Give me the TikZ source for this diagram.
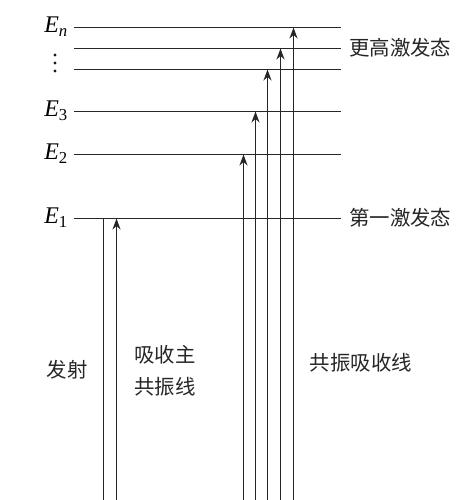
\documentclass[tikz,border=0pt]{standalone}
\usepackage{fontspec}
\setmainfont{Liberation Serif}
\newfontfamily\cjk{Noto Sans CJK SC}
\usetikzlibrary{positioning,arrows.meta}
\tikzset{
  level/.style  = {line width=1.7bp, draw=black!85},
  flow/.style   = {-{Stealth[length=11bp,width=8bp]}, line width=1.7bp, draw=black!85},
  emit/.style   = {line width=1.7bp, draw=black!85},
  elbl/.style   = {font=\fontsize{24}{26}\selectfont, inner sep=0pt, anchor=east},
  dot/.style    = {circle, fill=black!90, inner sep=0pt, minimum size=3.4bp},
  zh/.style     = {font=\cjk\fontsize{20.5}{32}\selectfont, align=center, inner sep=0pt, text=black!85},
}

\begin{document}
\begin{tikzpicture}[x=1bp,y=-1bp]
  \useasboundingbox (0,0) rectangle (474,500);

  % energy levels
  \coordinate (en-a) at (74,27.5);  \coordinate (en-b) at (341,27.5);
  \coordinate (h2-a) at (74,48.5);  \coordinate (h2-b) at (341,48.5);
  \coordinate (h1-a) at (74,69.5);  \coordinate (h1-b) at (341,69.5);
  \coordinate (e3-a) at (74,111.5); \coordinate (e3-b) at (341,111.5);
  \coordinate (e2-a) at (74,154.5); \coordinate (e2-b) at (341,154.5);
  \coordinate (e1-a) at (74,218.5); \coordinate (e1-b) at (341,218.5);
  \draw[level] (en-a) -- (en-b);
  \draw[level] (h2-a) -- (h2-b);
  \draw[level] (h1-a) -- (h1-b);
  \draw[level] (e3-a) -- (e3-b);
  \draw[level] (e2-a) -- (e2-b);
  \draw[level] (e1-a) -- (e1-b);

  \node[elbl] (lbl-en) at (68,27)  {\textit{E}\textsubscript{\textit{n}}};
  \node[elbl] (lbl-e3) at (68,111) {\textit{E}\textsubscript{3}};
  \node[elbl] (lbl-e2) at (68,154) {\textit{E}\textsubscript{2}};
  \node[elbl] (lbl-e1) at (68,218) {\textit{E}\textsubscript{1}};
  \node[dot] (dot1) at (55,55) {};
  \node[dot] (dot2) at (55,63) {};
  \node[dot] (dot3) at (55,71) {};

  \node[zh, anchor=west] (higher) at (349,48)  {更高激发态};
  \node[zh, anchor=west] (first)  at (349,218) {第一激发态};

  % emission and main resonance absorption
  \coordinate (emit-bot) at (103.5,500);
  \coordinate (abs-bot)  at (116.5,500);
  \draw[emit] (emit-bot) -- (emit-bot |- e1-a);
  \draw[flow] (abs-bot) -- (abs-bot |- e1-a);

  % resonance absorption lines
  \coordinate (r1) at (243.5,500);
  \coordinate (r2) at (255.5,500);
  \coordinate (r3) at (267.5,500);
  \coordinate (r4) at (280.5,500);
  \coordinate (r5) at (293.5,500);
  \draw[flow] (r1) -- (r1 |- e2-a);
  \draw[flow] (r2) -- (r2 |- e3-a);
  \draw[flow] (r3) -- (r3 |- h1-a);
  \draw[flow] (r4) -- (r4 |- h2-a);
  \draw[flow] (r5) -- (r5 |- en-a);

  \node[zh] (emit-lbl) at (67,370)  {发射};
  \node[zh] (main-lbl) at (165,371) {吸收主\\共振线};
  \node[zh] (res-lbl)  at (361,363) {共振吸收线};
\end{tikzpicture}
\end{document}
